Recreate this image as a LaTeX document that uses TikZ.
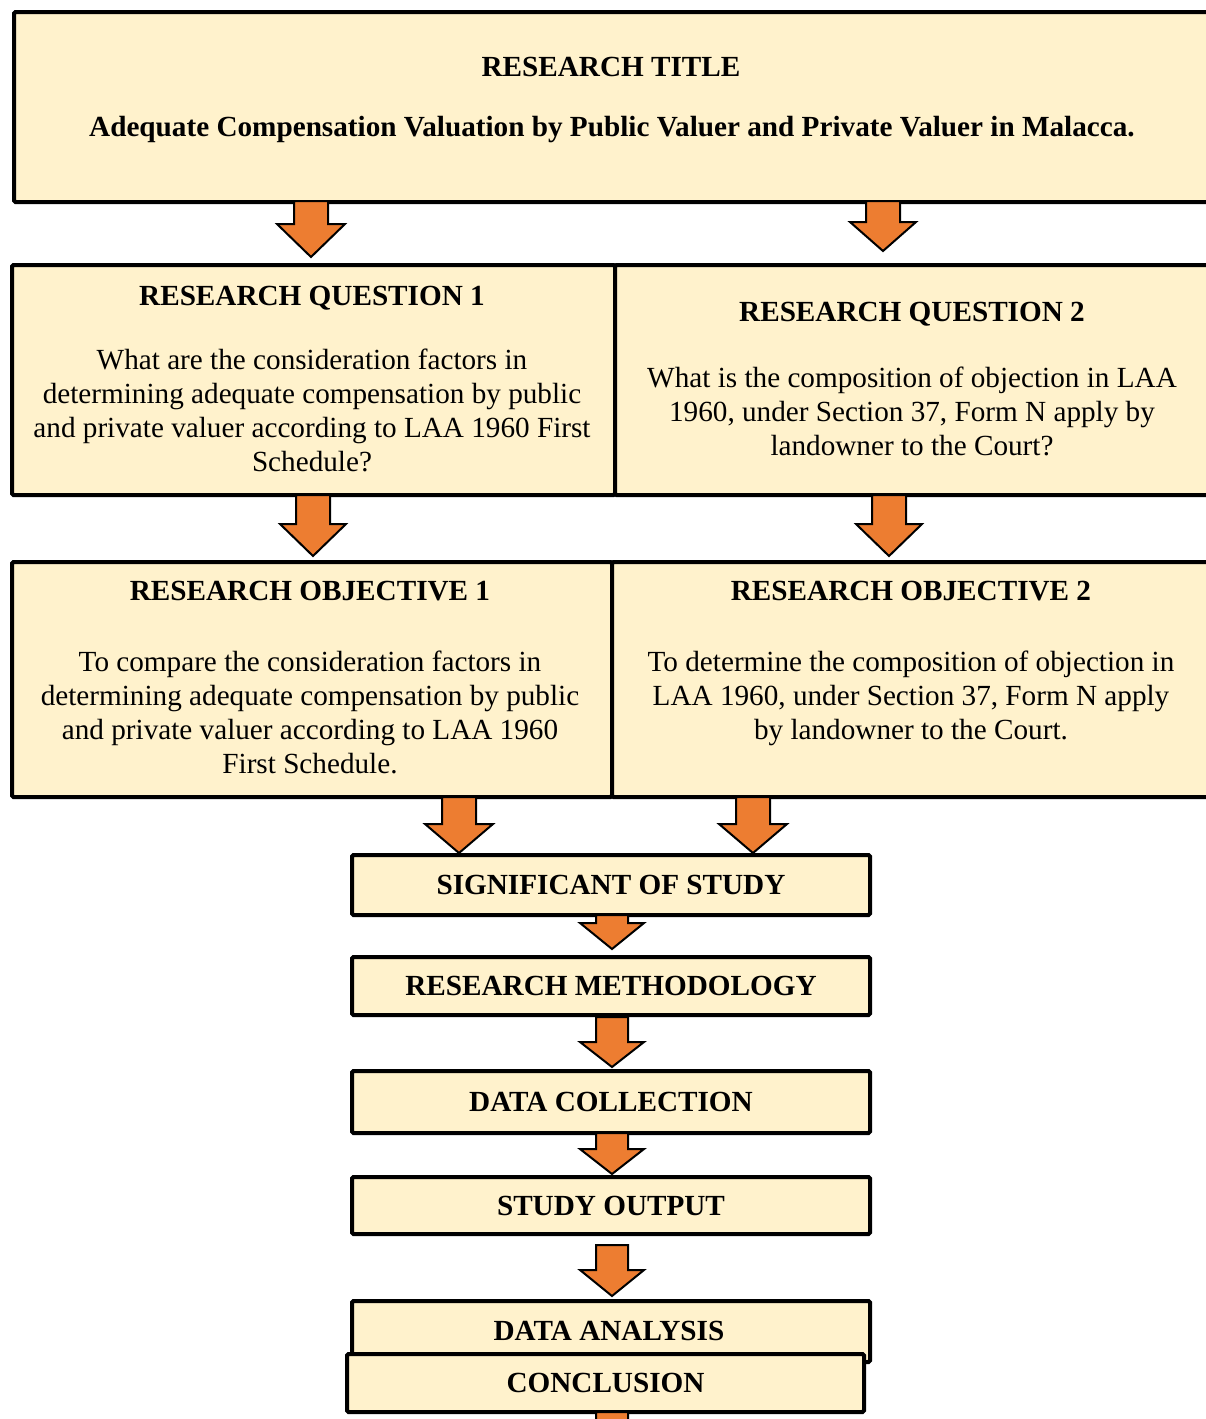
\documentclass[tikz,border=0pt]{standalone}
\usepackage{fontspec}
\setmainfont{Liberation Serif}
\definecolor{cream}{HTML}{FFF2CC}
\definecolor{flow}{HTML}{ED7D31}
\tikzset{
  box/.style={draw=black, line width=4pt, fill=cream, rounded corners=1.5pt, inner sep=0pt},
  head/.style={font=\fontsize{29.2}{34}\selectfont\bfseries, inner sep=0pt},
  body/.style={font=\fontsize{29.2}{34}\selectfont, align=center, inner sep=0pt},
  flowarrow/.style={draw=black, line width=2pt, fill=flow, line join=miter},
}
% block arrow: name, centre x, top y, y where the head starts, tip y, shaft half width, head half width
\newcommand\blockarrow[7]{%
  \draw[flowarrow] ({#2-#6},#3) -- ({#2-#6},#4) -- ({#2-#7},#4) -- (#2,#5)
    coordinate (#1) -- ({#2+#7},#4) -- ({#2+#6},#4) -- ({#2+#6},#3) -- cycle;}
\begin{document}
\begin{tikzpicture}[x=1pt,y=-1pt]
\useasboundingbox (0,0) rectangle (1206,1419);
\clip (0,0) rectangle (1206,1419);

% title
\node[box, minimum width=1220pt, minimum height=190pt, anchor=north west] (title) at (12,10) {};
\node[head] (titlehead) at (611,67) {RESEARCH TITLE};
\node[head] (titletext) at (612,130) {Adequate Compensation Valuation by Public Valuer and Private Valuer in Malacca.};

% research questions
\node[box, minimum width=603pt, minimum height=230pt, anchor=north west] (rq1) at (10,263) {};
\node[box, minimum width=620pt, minimum height=230pt, anchor=north west] (rq2) at (613,263) {};
\node[head] (rq1head) at (312,298) {RESEARCH QUESTION 1};
\node[body, anchor=north] (rq1text) at (312,349) {What are the consideration factors in\\determining adequate compensation by public\\and private valuer according to LAA 1960 First\\Schedule?};
\node[head] (rq2head) at (912,314) {RESEARCH QUESTION 2};
\node[body, anchor=north] (rq2text) at (912,367) {What is the composition of objection in LAA\\1960, under Section 37, Form N apply by\\landowner to the Court?};

% research objectives
\node[box, minimum width=600pt, minimum height=235pt, anchor=north west] (ro1) at (10,560) {};
\node[box, minimum width=623pt, minimum height=235pt, anchor=north west] (ro2) at (610,560) {};
\node[head] (ro1head) at (310,591) {RESEARCH OBJECTIVE 1};
\node[body, anchor=north] (ro1text) at (310,651) {To compare the consideration factors in\\determining adequate compensation by public\\and private valuer according to LAA 1960\\First Schedule.};
\node[head] (ro2head) at (911,591) {RESEARCH OBJECTIVE 2};
\node[body, anchor=north] (ro2text) at (911,651) {To determine the composition of objection in\\LAA 1960, under Section 37, Form N apply\\by landowner to the Court.};

% study stages
\node[box, minimum width=518pt, minimum height=60pt, anchor=north west] (sig) at (350,853) {};
\node[head] at (sig.center) {SIGNIFICANT OF STUDY};
\node[box, minimum width=518pt, minimum height=58pt, anchor=north west] (meth) at (350,955) {};
\node[head] at (meth.center) {RESEARCH METHODOLOGY};
\node[box, minimum width=518pt, minimum height=62pt, anchor=north west] (coll) at (350,1069) {};
\node[head] at (coll.center) {DATA COLLECTION};
\node[box, minimum width=518pt, minimum height=57pt, anchor=north west] (out) at (350,1175) {};
\node[head] at (out.center) {STUDY OUTPUT};
\node[box, minimum width=518pt, minimum height=61pt, anchor=north west] (ana) at (350,1299) {};
\node[head] at (609,1331) {DATA ANALYSIS};
\node[box, minimum width=517pt, minimum height=58pt, anchor=north west] (conc) at (345,1352) {};
\node[head] at (conc.center) {CONCLUSION};

% connecting block arrows
\blockarrow{a1}{311}{201}{224}{257}{17}{34}
\blockarrow{a2}{883}{201}{222}{251}{17}{33}
\blockarrow{a3}{313}{495}{524}{556}{17}{33}
\blockarrow{a4}{889}{495}{524}{556}{17}{33}
\blockarrow{a5}{459}{797}{824}{853}{17}{34}
\blockarrow{a6}{753}{797}{824}{853}{17}{34}
\blockarrow{a7}{612}{915}{923}{949}{16}{32}
\blockarrow{a8}{612}{1017}{1042}{1067}{16}{32}
\blockarrow{a9}{612}{1133}{1149}{1174}{16}{32}
\blockarrow{a10}{612}{1245}{1270}{1296}{16}{32}
\blockarrow{a11}{612}{1412}{1440}{1470}{16}{32}
\end{tikzpicture}
\end{document}
